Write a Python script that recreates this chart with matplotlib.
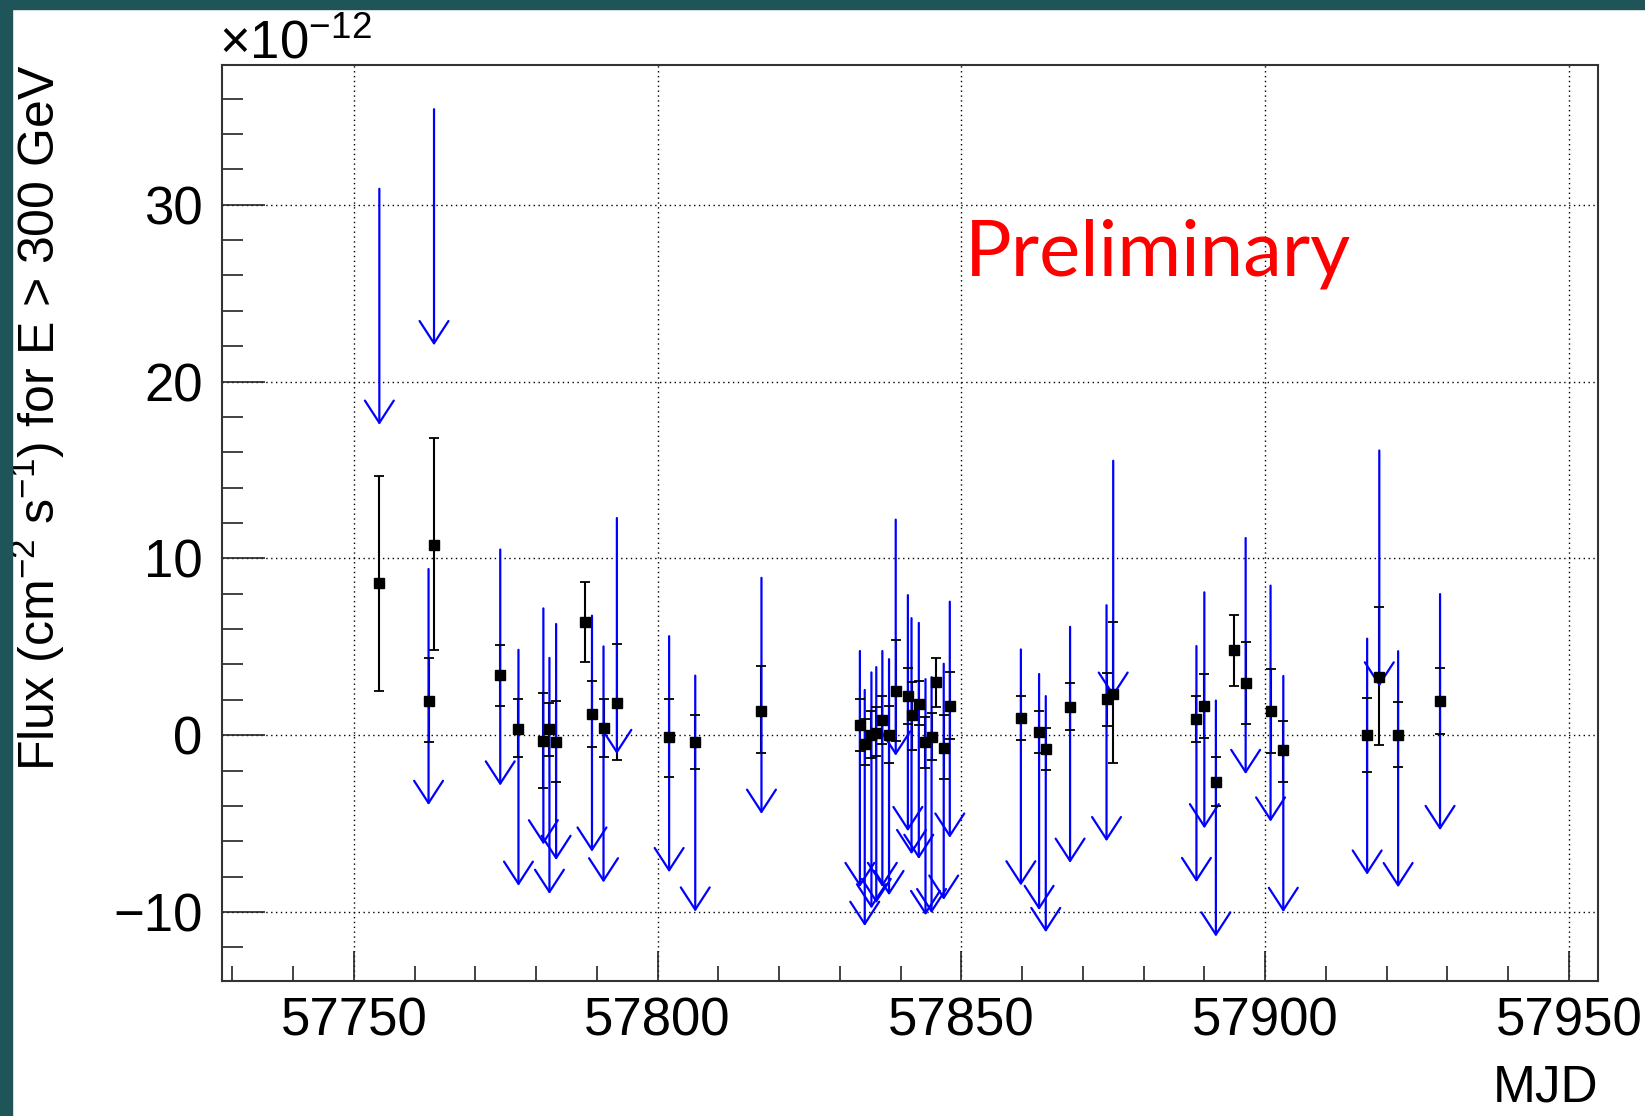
import numpy as np
import matplotlib.pyplot as plt
from matplotlib.patches import Rectangle
from matplotlib.ticker import MultipleLocator

plt.rcParams['font.family'] = ['Liberation Sans', 'DejaVu Sans']
plt.rcParams['mathtext.fontset'] = 'custom'
plt.rcParams['mathtext.rm'] = 'Liberation Sans'
plt.rcParams['mathtext.it'] = 'Liberation Sans:italic'
plt.rcParams['mathtext.bf'] = 'Liberation Sans:bold'

# %% データ (flux in units of 1e-12 cm^-2 s^-1)

mjd = [57754.2, 57762.3, 57763.2, 57774.1, 57777.1, 57781.2, 57782.2, 57783.3,
       57788.1, 57789.2, 57791.1, 57793.3, 57801.9, 57806.2, 57817.1,
       57833.3, 57834.1, 57835.2, 57836.0, 57837.0, 57838.1, 57839.2, 57841.2,
       57841.8, 57843.0, 57844.1, 57845.1, 57845.9, 57847.1, 57848.1,
       57859.8, 57862.8, 57863.9, 57867.9, 57873.9, 57875.0,
       57888.7, 57890.0, 57891.9, 57894.9, 57896.8, 57900.9, 57903.0,
       57916.8, 57918.8, 57921.9, 57928.8]

flux = [8.61, 1.93, 10.76, 3.41, 0.35, -0.30, 0.35, -0.41,
        6.40, 1.18, 0.43, 1.83, -0.10, -0.38, 1.39,
        0.57, -0.47, 0.00, 0.13, 0.85, 0.00, 2.52, 2.24,
        1.14, 1.76, -0.38, -0.09, 3.00, -0.72, 1.65,
        1.00, 0.17, -0.77, 1.58, 2.02, 2.35,
        0.90, 1.67, -2.62, 4.81, 2.96, 1.38, -0.85,
        0.00, 3.31, 0.00, 1.92]

flux_lo = [2.50, -0.39, 4.81, 1.64, -1.22, -2.98, -1.16, -2.62,
           4.16, -0.69, -1.22, -1.40, -2.34, -1.89, -1.03,
           -0.91, -1.70, -1.27, -1.18, -0.47, -1.57, -0.34, 0.63,
           -0.82, 0.55, -1.86, -1.38, 1.57, -2.50, -0.21,
           -0.29, -1.02, -1.94, 0.27, 0.52, -1.60,
           -0.38, -0.15, -4.00, 2.79, 0.62, -1.02, -2.62,
           -2.08, -0.58, -1.79, 0.08]

flux_hi = [14.66, 4.37, 16.81, 5.10, 2.03, 2.40, 1.83, 1.93,
           8.69, 3.05, 2.03, 5.18, 2.05, 1.14, 3.90,
           2.05, 0.90, 1.38, 1.61, 2.24, 1.67, 5.38, 3.81,
           3.00, 3.09, 1.04, 1.23, 4.36, 1.12, 3.55,
           2.21, 1.38, 0.42, 2.96, 3.54, 6.42,
           2.21, 3.46, -1.21, 6.77, 5.29, 3.73, 0.81,
           2.12, 7.25, 1.85, 3.79]

# 上限値 (nan = no upper limit)
flux_ul = [30.9, 9.40, 35.4, 10.50, 4.83, 7.17, 4.37, 6.29,
           np.nan, 6.76, 5.02, 12.28, 5.60, 3.37, 8.90,
           4.76, 2.56, 3.55, 3.85, 4.76, 4.30, 12.19, 7.92,
           6.62, 6.35, 3.17, 3.28, np.nan, 4.04, 7.55,
           4.85, 3.46, 2.21, 6.13, 7.35, 15.52,
           5.04, 8.08, 1.96, np.nan, 11.15, 8.46, 3.35,
           5.46, 16.10, 4.75, 7.98]

ARROW_LEN = 13.35

# %% グラフ

fig = plt.figure(figsize=(16.45, 11.16), dpi=100)
ax = fig.add_axes([222 / 1645, 1 - 981 / 1116, 1376 / 1645, 916 / 1116])

# slide background strips
teal = '#1f5459'
fig.patches.append(Rectangle((0, 1 - 9 / 1116), 1, 9 / 1116,
                             transform=fig.transFigure, color=teal, zorder=0))
fig.patches.append(Rectangle((0, 0), 12 / 1645, 1,
                             transform=fig.transFigure, color=teal, zorder=0))

x = np.array(mjd)
y = np.array(flux)
yerr = [y - np.array(flux_lo), np.array(flux_hi) - y]

data_line, caplines, barcols = ax.errorbar(
    x, y, yerr=yerr, fmt='s', color='black', ms=7,
    elinewidth=1.5, capsize=3.5, capthick=1.3)
for b in barcols:
    b.set_zorder(2)
for c in caplines:
    c.set_zorder(4)
data_line.set_zorder(5)

# upper limit arrows
for m, ul in zip(mjd, flux_ul):
    if np.isnan(ul):
        continue
    ax.annotate('', xy=(m, ul - ARROW_LEN), xytext=(m, ul),
                arrowprops=dict(arrowstyle='->,head_length=0.8,head_width=0.52',
                                color='#0000ff', lw=1.6, shrinkA=0, shrinkB=0,
                                mutation_scale=20),
                zorder=3)

ax.set_xlim(57728.3, 57954.8)
ax.set_ylim(-13.9, 37.9)

ax.xaxis.set_major_locator(MultipleLocator(50))
ax.xaxis.set_minor_locator(MultipleLocator(10))
ax.yaxis.set_major_locator(MultipleLocator(10))
ax.yaxis.set_minor_locator(MultipleLocator(2))

ax.tick_params(which='both', direction='in', top=False, right=False,
               labelsize=38, width=1.2, color='#222222')
ax.tick_params(axis='x', which='major', length=21.6, pad=11)
ax.tick_params(axis='x', which='minor', length=10.8)
ax.tick_params(axis='y', which='major', length=31, pad=14)
ax.tick_params(axis='y', which='minor', length=15)

for s in ax.spines.values():
    s.set_linewidth(1.5)
    s.set_color('#333333')

ax.grid(True, which='major', linestyle=(0, (1, 2.5)), color='black', lw=1)

ax.set_xlabel('MJD', fontsize=37, loc='right')
ax.xaxis.set_label_coords(1.0, -0.09)
ax.set_ylabel(r'Flux (cm$^{-2}$ s$^{-1}$) for E > 300 GeV', fontsize=36, loc='top')
ax.yaxis.set_label_coords(-0.113, 1.0)

ax.text(-0.002, 1.0076, r'$\mathregular{\times10^{-12}}$', transform=ax.transAxes,
        fontsize=38, ha='left', va='baseline')

ax.text(0.54, 0.7697, 'Preliminary', transform=ax.transAxes, color='red',
        fontsize=56, family=['Lato', 'DejaVu Sans'], va='baseline', ha='left')

fig.savefig('out.png', dpi=100)
